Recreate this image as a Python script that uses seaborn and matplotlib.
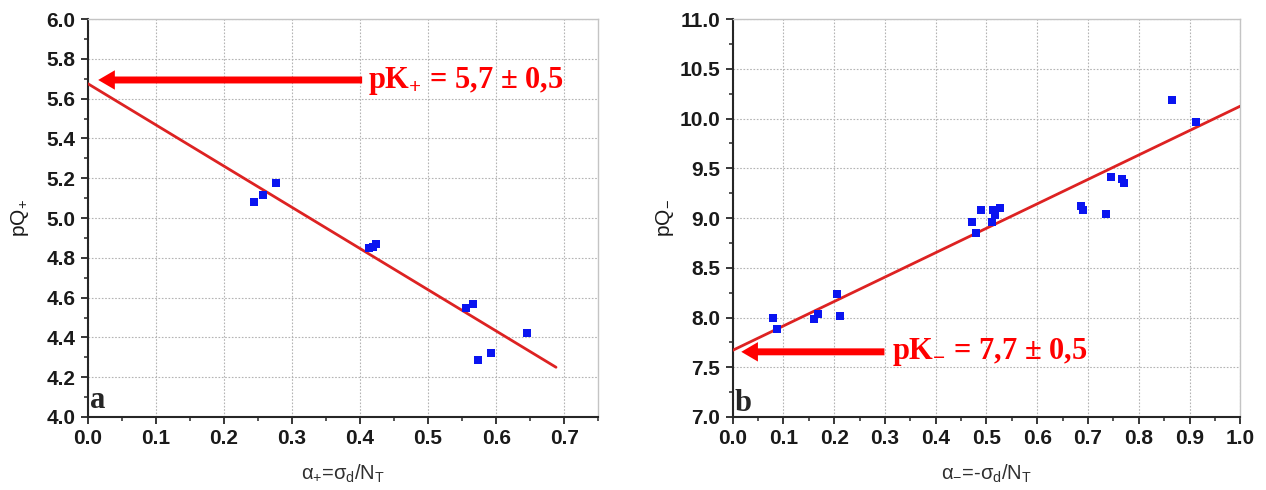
import matplotlib
matplotlib.use('Agg')
from matplotlib import pyplot as plt
from matplotlib.ticker import MultipleLocator
import pandas as pd
import seaborn as sns

# panel a : positive surface charge
alpha_plus = [0.244, 0.257, 0.276, 0.413, 0.419, 0.424, 0.556, 0.566, 0.574, 0.593, 0.646]
pq_plus = [5.081, 5.114, 5.175, 4.850, 4.855, 4.869, 4.548, 4.566, 4.287, 4.323, 4.422]
fit_plus_x = [0.0, 0.688]
fit_plus_y = [5.675, 4.250]

# panel b : negative surface charge
alpha_minus = [0.080, 0.087, 0.160, 0.169, 0.205, 0.212, 0.471, 0.480, 0.489, 0.511,
               0.513, 0.516, 0.527, 0.687, 0.690, 0.735, 0.745, 0.766, 0.771, 0.865, 0.913]
pq_minus = [8.00, 7.88, 7.99, 8.04, 8.24, 8.02, 8.96, 8.85, 9.08, 8.96,
            9.08, 9.03, 9.10, 9.12, 9.08, 9.04, 9.41, 9.39, 9.35, 10.19, 9.97]
fit_minus_x = [0.0, 1.0]
fit_minus_y = [7.67, 10.125]

df_a = pd.DataFrame({'alpha': alpha_plus, 'pQ': pq_plus})
df_b = pd.DataFrame({'alpha': alpha_minus, 'pQ': pq_minus})

sns.set_style('ticks')
plt.rcParams['font.family'] = ['Liberation Sans', 'DejaVu Sans']

fig = plt.figure(figsize=(12.66, 4.9), dpi=100)
ax_a = fig.add_axes([0.0695, 0.149, 0.403, 0.812])
ax_b = fig.add_axes([0.5787, 0.149, 0.401, 0.812])

point_col = '#0a14f0'
line_col = '#dd2222'
arrow_col = '#ff0000'
dark = '#262626'
serif = ['Liberation Serif', 'DejaVu Serif']


def style_axes(ax, xmax, ymin, ymax, xmaj, ymaj, xlab, ylab):
    ax.set_xlim(0, xmax)
    ax.set_ylim(ymin, ymax)
    ax.xaxis.set_major_locator(MultipleLocator(xmaj))
    ax.xaxis.set_minor_locator(MultipleLocator(xmaj / 2))
    ax.yaxis.set_major_locator(MultipleLocator(ymaj))
    ax.yaxis.set_minor_locator(MultipleLocator(ymaj / 2))
    ax.grid(True, which='major', color='#b4b4b4', lw=0.8, linestyle=(0, (1.5, 1.5)))
    ax.set_axisbelow(True)
    for s in ['left', 'bottom']:
        ax.spines[s].set_color(dark)
        ax.spines[s].set_linewidth(1.5)
    for s in ['top', 'right']:
        ax.spines[s].set_color('#c4c4c4')
        ax.spines[s].set_linewidth(1.0)
    ax.tick_params(which='major', direction='out', length=5, width=1.3, color=dark, pad=4,
                   labelsize=15, labelcolor='#1a1a1a')
    ax.tick_params(which='minor', direction='out', length=3, width=1.1, color=dark)
    ax.set_xlabel(xlab, fontsize=14.5, color='#303030')
    ax.set_ylabel(ylab, fontsize=15, color='#1a1a1a')
    ax.xaxis.set_label_coords(0.5, -0.115)
    ax.yaxis.set_label_coords(-0.112, 0.5)


# panel a
sns.lineplot(x=fit_plus_x, y=fit_plus_y, ax=ax_a, color=line_col, lw=2, zorder=3)
sns.scatterplot(data=df_a, x='alpha', y='pQ', ax=ax_a, marker='s', s=36,
                color=point_col, linewidth=0, zorder=4)
style_axes(ax_a, 0.75, 4.0, 6.0, 0.1, 0.2,
           'α$_\\mathregular{+}$=σ$_\\mathregular{d}$/N$_\\mathregular{T}$',
           'pQ$_\\mathregular{+}$')
ax_a.annotate('', xy=(0.015, 5.694), xytext=(0.403, 5.694),
              arrowprops=dict(arrowstyle='simple,head_length=1.2,head_width=1.4,tail_width=0.5',
                              color=arrow_col, lw=0, shrinkA=0, shrinkB=0, mutation_scale=10))
ax_a.text(0.412, 5.69, 'pK$_\\mathregular{+}$ = 5,7 ± 0,5', color=arrow_col, fontsize=22,
          fontweight='bold', family=serif, va='center', ha='left')
ax_a.text(0.003, 4.045, 'a', fontsize=22, fontweight='bold', family=serif,
          va='baseline', ha='left')

# panel b
sns.lineplot(x=fit_minus_x, y=fit_minus_y, ax=ax_b, color=line_col, lw=2, zorder=3)
sns.scatterplot(data=df_b, x='alpha', y='pQ', ax=ax_b, marker='s', s=36,
                color=point_col, linewidth=0, zorder=4)
style_axes(ax_b, 1.0, 7.0, 11.0, 0.1, 0.5,
           'α$_\\mathregular{-}$=-σ$_\\mathregular{d}$/N$_\\mathregular{T}$',
           'pQ$_\\mathregular{-}$')
ax_b.annotate('', xy=(0.017, 7.655), xytext=(0.299, 7.655),
              arrowprops=dict(arrowstyle='simple,head_length=1.2,head_width=1.4,tail_width=0.5',
                              color=arrow_col, lw=0, shrinkA=0, shrinkB=0, mutation_scale=10))
ax_b.text(0.314, 7.65, 'pK$_\\mathregular{-}$ = 7,7 ± 0,5', color=arrow_col, fontsize=22,
          fontweight='bold', family=serif, va='center', ha='left')
ax_b.text(0.004, 7.06, 'b', fontsize=22, fontweight='bold', family=serif,
          va='baseline', ha='left')

# bold tick labels (after a draw so every tick exists)
fig.canvas.draw()
for ax in (ax_a, ax_b):
    for lab in ax.get_xticklabels() + ax.get_yticklabels():
        lab.set_fontweight('bold')

plt.savefig('out.png', dpi=100)
